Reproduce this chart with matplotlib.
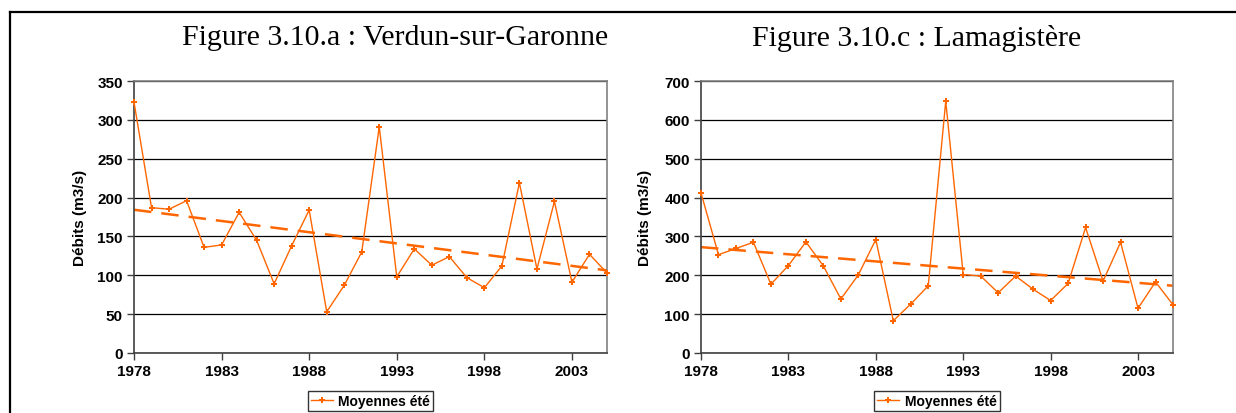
import numpy as np
import matplotlib
matplotlib.use("Agg")
import matplotlib.pyplot as plt
from matplotlib.lines import Line2D

years = list(range(1978, 2006))
verdun = [323, 187, 185, 196, 136, 139, 181, 145, 89, 138, 184, 53, 87, 130,
          291, 98, 134, 113, 124, 97, 84, 112, 219, 108, 195, 91, 127, 103]
lamag = [412, 253, 269, 285, 177, 225, 286, 224, 139, 201, 292, 83, 126, 173,
         648, 202, 198, 155, 198, 164, 135, 179, 323, 185, 285, 115, 183, 124]
titles = ["Figure 3.10.a : Verdun-sur-Garonne", "Figure 3.10.c : Lamagistère"]
ylabel = "Débits (m3/s)"
legend_label = "Moyennes été"
xticks = [1978, 1983, 1988, 1993, 1998, 2003]
ylims = [350, 700]
ysteps = [50, 100]

ORANGE = "#FF6600"
W, H = 1236, 414
fig = plt.figure(figsize=(W / 100, H / 100), dpi=100)

def fx(px):
    return px / W

def fy(py):
    return 1 - py / H

# frame lines (top and left)
fig.add_artist(Line2D([fx(10), 1.0], [fy(13), fy(13)], color="black", lw=1.6))
fig.add_artist(Line2D([fx(10), fx(10)], [fy(13), 0.0], color="black", lw=1.6))

axes_px = [(134, 607), (701, 1173)]
ylabel_px = [87, 652]
title_cx = [395, 917]
top_px, bot_px = 82, 354

bold = dict(family="Liberation Sans", weight="bold")

for i, (data, title) in enumerate(zip([verdun, lamag], titles)):
    x0, x1 = axes_px[i]
    ax = fig.add_axes([fx(x0), fy(bot_px), fx(x1 - x0), (bot_px - top_px) / H])
    y = np.array(data, dtype=float)
    x = np.array(years, dtype=float)
    ax.plot(x, y, color=ORANGE, lw=1.0, marker="P", ms=4.5, mew=0,
            label=legend_label, zorder=3, clip_on=False)
    coef = np.polyfit(x, y, 1)
    ax.plot(x, np.polyval(coef, x), color=ORANGE, lw=1.8, ls=(0, (7, 4)), zorder=2)
    ax.set_xlim(years[0], years[-1])
    ax.set_ylim(0, ylims[i])
    ax.set_yticks(np.arange(0, ylims[i] + 1, ysteps[i]))
    ax.set_xticks(xticks)
    ax.grid(axis="y", color="black", lw=0.9)
    ax.set_axisbelow(True)
    ax.tick_params(axis="both", direction="out", length=5, width=1, color="#404040",
                   pad=3, labelsize=11)
    for lab in ax.get_xticklabels() + ax.get_yticklabels():
        lab.set_fontfamily("Liberation Sans")
        lab.set_fontweight("bold")
    for s in ["left", "bottom"]:
        ax.spines[s].set_color("#404040")
        ax.spines[s].set_linewidth(1.2)
    for s in ["top", "right"]:
        ax.spines[s].set_color("#808080")
        ax.spines[s].set_linewidth(1.2)
    ax.set_ylabel(ylabel, fontsize=11, **bold)
    ax.yaxis.set_label_coords((ylabel_px[i] - x0) / (x1 - x0), 0.5)
    leg = ax.legend(loc="center", bbox_to_anchor=(0.5, (bot_px - 402) / (bot_px - top_px)),
                    frameon=True, fancybox=False, edgecolor="black", handlelength=1.6,
                    borderpad=0.2, handletextpad=0.4, borderaxespad=0,
                    prop=dict(family="Liberation Sans", weight="bold", size=10))
    leg.get_frame().set_linewidth(1.0)
    fig.text(fx(title_cx[i]), fy(38), title, ha="center", va="center",
             family="Liberation Serif", fontsize=21.5)

fig.savefig("out.png", dpi=100)
